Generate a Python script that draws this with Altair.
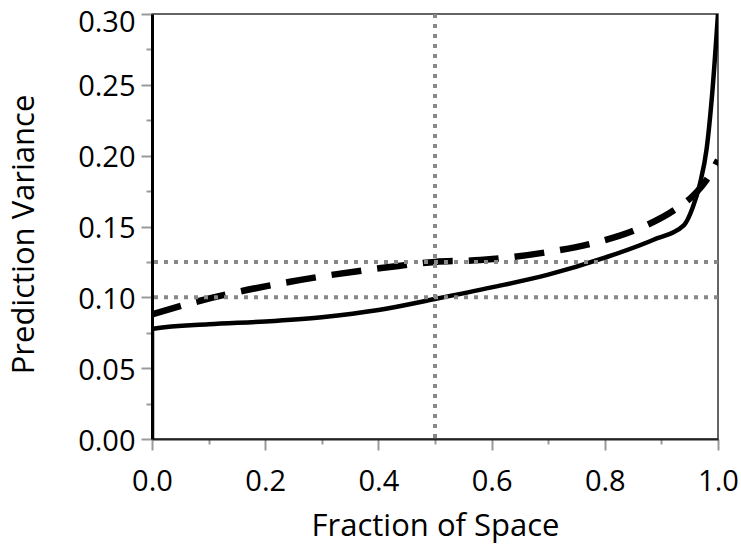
import altair as alt
import pandas as pd

# Solid curve
solid_x = [0.0, 0.0, 0.005, 0.1, 0.2, 0.3, 0.4, 0.5, 0.6, 0.7, 0.8, 0.885, 0.94, 0.955, 0.968, 0.98, 0.99, 1.0]
solid_y = [0.0, 0.077, 0.078, 0.081, 0.083, 0.086, 0.091, 0.0988, 0.107, 0.116, 0.128, 0.1405, 0.151, 0.163, 0.18, 0.205, 0.245, 0.30]

# Dashed curve
dashed_x = [0.0, 0.085, 0.244, 0.42, 0.5, 0.58, 0.7, 0.777, 0.857, 0.928, 0.954, 0.98, 1.0]
dashed_y = [0.088, 0.0976, 0.111, 0.1214, 0.125, 0.1263, 0.132, 0.138, 0.148, 0.163, 0.171, 0.183, 0.197]

# Reference lines
h_refs = [0.1, 0.125]
v_refs = [0.5]

x_ticks = [round(i * 0.1, 1) for i in range(11)]
y_ticks = [round(i * 0.025, 3) for i in range(13)]

solid_df = pd.DataFrame({"x": solid_x, "y": solid_y, "order": range(len(solid_x))})
dashed_df = pd.DataFrame({"x": dashed_x, "y": dashed_y, "order": range(len(dashed_x))})
h_df = pd.DataFrame({"y": h_refs})
v_df = pd.DataFrame({"x": v_refs})

FONT = "Open Sans"

x_axis = alt.Axis(
    title="Fraction of Space",
    values=x_ticks,
    labelExpr="(round(datum.value*10) % 2 == 0) ? format(datum.value, '.1f') : ''",
    labelOverlap=False,
    labelFlush=False,
    tickSize={"condition": {"test": "round(datum.value*10) % 2 == 0", "value": 11}, "value": 5},
    tickColor="#9a9a9a",
    tickWidth=2,
    domainColor="#222222",
    domainWidth=2,
    grid=False,
    labelFont=FONT,
    labelFontSize=29,
    labelColor="black",
    labelPadding=17,
    titleFont=FONT,
    titleFontSize=31,
    titleFontWeight="normal",
    titleColor="black",
    titleX=283,
    titleY=96,
    titleBaseline="alphabetic",
)

y_axis = alt.Axis(
    title="Prediction Variance",
    values=y_ticks,
    labelExpr="(round(datum.value*40) % 2 == 0) ? format(datum.value, '.2f') : ''",
    labelOverlap=False,
    labelFlush=False,
    tickSize={"condition": {"test": "round(datum.value*40) % 2 == 0", "value": 11}, "value": 6},
    tickColor="#9a9a9a",
    tickWidth=2,
    domainColor="black",
    domainWidth=3,
    grid=False,
    labelFont=FONT,
    labelFontSize=29,
    labelColor="black",
    labelPadding=6,
    labelOffset={"condition": {"test": "datum.value > 0.29", "value": 8}, "value": 2},
    titleFont=FONT,
    titleFontSize=31,
    titleFontWeight="normal",
    titleColor="black",
    titleX=-119,
    titleY=220,
    titleBaseline="alphabetic",
    titleAngle=270,
)

x_scale = alt.Scale(domain=[0, 1], nice=False)
y_scale = alt.Scale(domain=[0, 0.3], nice=False)

solid = alt.Chart(solid_df).mark_line(color="black", strokeWidth=4.5, clip=True, interpolate="monotone").encode(
    x=alt.X("x:Q", scale=x_scale, axis=x_axis),
    y=alt.Y("y:Q", scale=y_scale, axis=y_axis),
    order="order:Q",
)

dashed = alt.Chart(dashed_df).mark_line(
    color="black", strokeWidth=6.5, strokeDash=[30, 16], clip=True, interpolate="monotone"
).encode(
    x=alt.X("x:Q", scale=x_scale, axis=x_axis),
    y=alt.Y("y:Q", scale=y_scale, axis=y_axis),
    order="order:Q",
)

hrules = alt.Chart(h_df).mark_rule(color="#888888", strokeWidth=4, strokeDash=[4, 6]).encode(
    y=alt.Y("y:Q", scale=y_scale, axis=y_axis),
)

vrules = alt.Chart(v_df).mark_rule(color="#888888", strokeWidth=4, strokeDash=[4, 6]).encode(
    x=alt.X("x:Q", scale=x_scale, axis=x_axis),
)

chart = alt.layer(dashed, solid, hrules, vrules).properties(
    width=566,
    height=425,
    autosize=alt.AutoSizeParams(type="none"),
    padding={"left": 152, "top": 14, "right": 23, "bottom": 105},
    background="white",
).configure_view(stroke="#333333", strokeWidth=1.5)

chart.save("out.html", embed_options={"renderer": "svg", "actions": False})
